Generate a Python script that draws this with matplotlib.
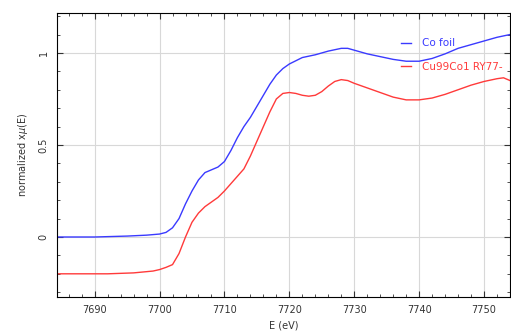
import matplotlib.pyplot as plt
import numpy as np

# Co foil
energy_co = [7684, 7690, 7695, 7698, 7700, 7701, 7702, 7703, 7704, 7705, 7706,
             7707, 7708, 7709, 7710, 7711, 7712, 7713, 7714, 7715, 7716, 7717,
             7718, 7719, 7720, 7722, 7724, 7726, 7728, 7729, 7730, 7732, 7734,
             7736, 7738, 7740, 7742, 7744, 7746, 7748, 7750, 7752, 7754]
mu_co = [0.0, 0.0, 0.005, 0.01, 0.016, 0.025, 0.05, 0.1, 0.18, 0.25, 0.31,
         0.35, 0.365, 0.38, 0.41, 0.47, 0.54, 0.6, 0.65, 0.71, 0.77, 0.83,
         0.88, 0.915, 0.94, 0.975, 0.99, 1.01, 1.025, 1.025, 1.015, 0.995, 0.98,
         0.965, 0.955, 0.955, 0.97, 0.995, 1.025, 1.045, 1.065, 1.085, 1.1]

# Cu99Co1 sample (offset)
energy_cu = [7684, 7692, 7696, 7699, 7700, 7701, 7702, 7703, 7704, 7705, 7706,
             7707, 7708, 7709, 7710, 7711, 7712, 7713, 7714, 7715, 7716, 7717,
             7718, 7719, 7720, 7721, 7722, 7723, 7724, 7725, 7726, 7727, 7728,
             7729, 7730, 7732, 7734, 7736, 7738, 7740, 7742, 7744, 7746, 7748,
             7750, 7752, 7753, 7754]
mu_cu = [-0.2, -0.2, -0.195, -0.185, -0.177, -0.165, -0.15, -0.09, 0.0, 0.08, 0.13,
         0.165, 0.19, 0.215, 0.25, 0.29, 0.33, 0.37, 0.44, 0.52, 0.6, 0.68,
         0.75, 0.78, 0.785, 0.78, 0.77, 0.765, 0.77, 0.79, 0.82, 0.845, 0.855,
         0.85, 0.835, 0.81, 0.785, 0.76, 0.745, 0.745, 0.755, 0.775, 0.8, 0.825,
         0.845, 0.86, 0.865, 0.85]

labels = ['Co foil', 'Cu99Co1 RY77-']

fig = plt.figure(figsize=(5.11, 3.33), dpi=100)
ax = fig.add_axes([57 / 511, 1 - 297 / 333, (510 - 57) / 511, (297 - 13) / 333])

ax.plot(energy_co, mu_co, color='#3a3aff', lw=1.0, label=labels[0])
ax.plot(energy_cu, mu_cu, color='#ff3a3a', lw=1.0, label=labels[1])

ax.set_xlim(7684.2, 7754)
ax.set_ylim(-0.326, 1.217)

ax.set_xticks([7690, 7700, 7710, 7720, 7730, 7740, 7750])
ax.set_xticks(np.arange(7686, 7755, 2), minor=True)
ax.set_yticks([0, 0.5, 1])
ax.set_yticklabels(['0', '0.5', '1'])
ax.set_yticks(np.arange(-0.3, 1.25, 0.1), minor=True)

ax.tick_params(which='both', direction='in', top=True, right=True,
               labelsize=7, colors='#333333', pad=6)
ax.tick_params(which='major', length=4)
ax.tick_params(which='minor', length=2)
for lab in ax.get_yticklabels():
    lab.set_rotation(90)
    lab.set_va('center')

ax.grid(True, which='major', color='#d8d8d8', lw=0.8)
ax.set_axisbelow(True)
for s in ax.spines.values():
    s.set_linewidth(0.8)

ax.set_xlabel('E (eV)', fontsize=7, color='#333333', labelpad=4)
ax.set_ylabel('normalized x$\\mu$(E)', fontsize=7, color='#333333', labelpad=6)

leg = ax.legend(loc='upper left', bbox_to_anchor=(0.738, 0.944), frameon=False,
                fontsize=7.5, handlelength=1.0, handletextpad=1.0, labelspacing=1.3)
for t, c in zip(leg.get_texts(), ['#3a3aff', '#ff3a3a']):
    t.set_color(c)

fig.savefig('out.png', dpi=100)
